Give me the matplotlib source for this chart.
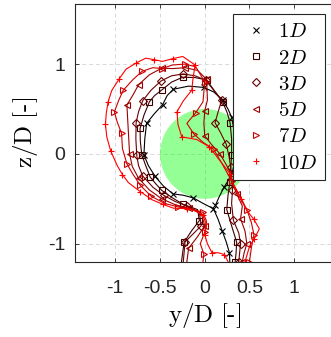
import matplotlib
matplotlib.use("Agg")
import matplotlib.pyplot as plt
from matplotlib.lines import Line2D
from matplotlib.patches import Circle

plt.rcParams["mathtext.fontset"] = "cm"

# Wake boundary contours at several downstream distances (y/D, z/D)
labels = [r"$1D$", r"$2D$", r"$3D$", r"$5D$", r"$7D$", r"$10D$"]
markers = ["x", "s", "D", "<", ">", "+"]
colors = ["#000000", "#3a0000", "#6a0000", "#9a0000", "#cc0000", "#ff0000"]

y_1D = [0.28, 0.276, 0.24, 0.194, 0.15, 0.097, -0.02, -0.127, -0.24, -0.354, -0.46, -0.555,
        -0.63, -0.68, -0.67, -0.65, -0.57, -0.47, -0.42, -0.35, -0.18, -0.01, 0.10, 0.20,
        0.26, 0.30, 0.33, 0.345, 0.34, 0.31, 0.26, 0.216, 0.16, 0.12]
z_1D = [-1.2, -1.10, -0.98, -0.854, -0.73, -0.61, -0.55, -0.49, -0.46, -0.445, -0.36, -0.25,
        -0.13, -0.01, 0.17, 0.34, 0.44, 0.55, 0.65, 0.72, 0.755, 0.74, 0.69, 0.60,
        0.50, 0.41, 0.25, 0.10, -0.05, -0.20, -0.30, -0.37, -0.48, -0.57]

y_2D = [-0.26, -0.231, -0.15, -0.06, -0.08, -0.238, -0.36, -0.48, -0.55, -0.61, -0.66, -0.704,
        -0.72, -0.723, -0.68, -0.618, -0.56, -0.48, -0.37, -0.246, -0.11, 0.022, 0.11, 0.20,
        0.25, 0.283, 0.30, 0.30, 0.29, 0.28, 0.26, 0.246, 0.30, 0.357, 0.35, 0.34]
z_2D = [-1.2, -0.984, -0.86, -0.742, -0.62, -0.563, -0.49, -0.406, -0.33, -0.257, -0.13, -0.007,
        0.14, 0.283, 0.43, 0.582, 0.65, 0.712, 0.80, 0.854, 0.85, 0.824, 0.70, 0.58,
        0.46, 0.347, 0.17, -0.015, -0.16, -0.31, -0.46, -0.62, -0.80, -0.984, -1.10, -1.2]

y_3D = [-0.24, -0.22, -0.12, -0.04, -0.06, -0.20, -0.33, -0.46, -0.58, -0.693, -0.74, -0.76,
        -0.77, -0.767, -0.74, -0.693, -0.60, -0.488, -0.37, -0.24, -0.11, 0.01, 0.10, 0.19,
        0.15, 0.115, 0.18, 0.24, 0.27, 0.29, 0.30, 0.31, 0.30, 0.32, 0.38, 0.40, 0.39, 0.38]
z_3D = [-1.2, -0.98, -0.88, -0.80, -0.65, -0.58, -0.53, -0.46, -0.37, -0.246, -0.13, -0.015,
        0.17, 0.347, 0.47, 0.593, 0.71, 0.813, 0.87, 0.89, 0.87, 0.82, 0.71, 0.60,
        0.47, 0.347, 0.23, 0.108, -0.02, -0.15, -0.27, -0.40, -0.55, -0.74, -0.88, -1.0, -1.1, -1.2]

y_5D = [-0.20, -0.18, -0.08, 0.0, -0.04, -0.18, -0.32, -0.48, -0.62, -0.74, -0.81, -0.84,
        -0.855, -0.87, -0.80, -0.74, -0.62, -0.48, -0.36, -0.22, -0.08, 0.02, 0.03, 0.0,
        -0.01, 0.0, 0.08, 0.17, 0.24, 0.29, 0.31, 0.36, 0.42, 0.40, 0.45, 0.47, 0.44, 0.42]
z_5D = [-1.2, -1.05, -0.92, -0.80, -0.66, -0.60, -0.57, -0.50, -0.40, -0.27, -0.14, 0.0,
        0.27, 0.545, 0.66, 0.77, 0.88, 0.955, 0.95, 0.96, 0.93, 0.83, 0.60, 0.48,
        0.34, 0.20, 0.10, 0.0, -0.12, -0.22, -0.33, -0.45, -0.58, -0.72, -0.86, -1.0, -1.1, -1.2]

y_7D = [-0.02, -0.01, -0.05, 0.0, 0.02, -0.02, -0.16, -0.30, -0.45, -0.60, -0.66, -0.72,
        -0.80, -0.87, -0.92, -0.93, -0.98, -1.01, -0.96, -0.91, -0.80, -0.70, -0.58, -0.48,
        -0.36, -0.22, -0.10, 0.0, -0.02, -0.10, -0.20, -0.12, -0.02, 0.10, 0.20, 0.30,
        0.40, 0.47, 0.52, 0.55, 0.52, 0.50]
z_7D = [-1.2, -1.115, -1.0, -0.87, -0.75, -0.65, -0.61, -0.59, -0.55, -0.47, -0.41, -0.35,
        -0.23, -0.11, 0.06, 0.23, 0.36, 0.47, 0.60, 0.71, 0.83, 0.92, 0.96, 0.95,
        0.99, 1.0, 0.97, 0.80, 0.58, 0.46, 0.34, 0.22, 0.13, 0.05, -0.12, -0.30,
        -0.48, -0.62, -0.76, -0.90, -1.05, -1.2]

y_10D = [0.26, 0.22, 0.15, 0.08, 0.03, 0.0, 0.02, -0.02, -0.12, -0.20, -0.35, -0.47,
         -0.59, -0.72, -0.853, -0.92, -0.976, -1.05, -1.095, -1.11, -1.10, -1.08, -1.04, -0.96,
         -0.88, -0.77, -0.66, -0.57, -0.473, -0.36, -0.246, -0.108, -0.13, -0.145, -0.24, -0.31,
         -0.30, -0.257, -0.09, 0.05, 0.15, 0.283, 0.32, 0.40, 0.47, 0.55, 0.61, 0.55, 0.50, 0.45]
z_10D = [-1.2, -1.12, -1.1, -1.1, -1.0, -0.9, -0.8, -0.68, -0.63, -0.61, -0.604, -0.56,
         -0.51, -0.42, -0.32, -0.23, -0.134, 0.03, 0.19, 0.33, 0.46, 0.58, 0.705, 0.83,
         0.943, 1.01, 1.066, 1.05, 1.03, 1.06, 1.085, 0.99, 0.85, 0.71, 0.59, 0.47,
         0.33, 0.19, 0.16, 0.08, -0.05, -0.22, -0.35, -0.50, -0.63, -0.73, -0.835, -0.95, -1.03, -1.2]

series_y = [y_1D, y_2D, y_3D, y_5D, y_7D, y_10D]
series_z = [z_1D, z_2D, z_3D, z_5D, z_7D, z_10D]

# Rotor disk outline
rotor_center = (0.0, 0.0)
rotor_radius = 0.5


def marker_size(m):
    if m in ("x", "+"):
        return 5
    if m == "D":
        return 4
    return 4.5


fig = plt.figure(figsize=(3.31, 3.37), dpi=100)
ax = fig.add_axes([0.2266, 0.2234, 0.784, 0.765])

ax.add_patch(Circle(rotor_center, rotor_radius, facecolor=(0, 1, 0), alpha=0.42,
                    edgecolor="none", zorder=1.5))

for yy, zz, m, c in zip(series_y, series_z, markers, colors):
    ax.plot(yy, zz, color=c, lw=0.8, marker=m, ms=marker_size(m), mfc="none", mec=c,
            mew=0.8, markevery=(1, 2), zorder=2)

ax.set_xlim(-1.45, 1.45)
ax.set_ylim(-1.2, 1.67)
ax.set_xticks([-1, -0.5, 0, 0.5, 1])
ax.set_xticklabels(["-1", "-0.5", "0", "0.5", "1"])
ax.set_yticks([-1, 0, 1])
ax.set_yticklabels(["-1", "0", "1"])
ax.grid(True, ls=(0, (4, 3)), color="#d9d9d9", lw=0.7, zorder=0)
ax.set_axisbelow(True)

for lab in ax.get_xticklabels() + ax.get_yticklabels():
    lab.set_fontfamily("Liberation Sans")
    lab.set_fontsize(14)
    lab.set_color("#262626")
ax.tick_params(axis="both", direction="in", length=3, width=0.6, colors="#262626",
               top=True, right=True)
ax.tick_params(axis="x", pad=13)
ax.tick_params(axis="y", pad=7)
for s in ax.spines.values():
    s.set_color("#262626")
    s.set_linewidth(0.8)

ax.set_xlabel(r"$\mathrm{y/D\ [\text{-}]}$", fontsize=18, labelpad=3)
ax.set_ylabel(r"$\mathrm{z/D\ [\text{-}]}$", fontsize=18)
ax.yaxis.set_label_coords(-0.135, 0.5)

handles = [Line2D([], [], ls="none", marker=m, ms=marker_size(m), mfc="none", mec=c, mew=0.8)
           for m, c in zip(markers, colors)]
leg = ax.legend(handles, labels, loc="upper right", bbox_to_anchor=(325 / 331, 323 / 337),
                bbox_transform=fig.transFigure, borderaxespad=0, fancybox=False,
                framealpha=1, edgecolor="#262626", fontsize=15, labelspacing=0.3,
                handlelength=1.5, handletextpad=0.32, borderpad=0.35)
leg.get_frame().set_linewidth(0.8)
leg.set_zorder(5)

fig.savefig("out.png", dpi=100)
